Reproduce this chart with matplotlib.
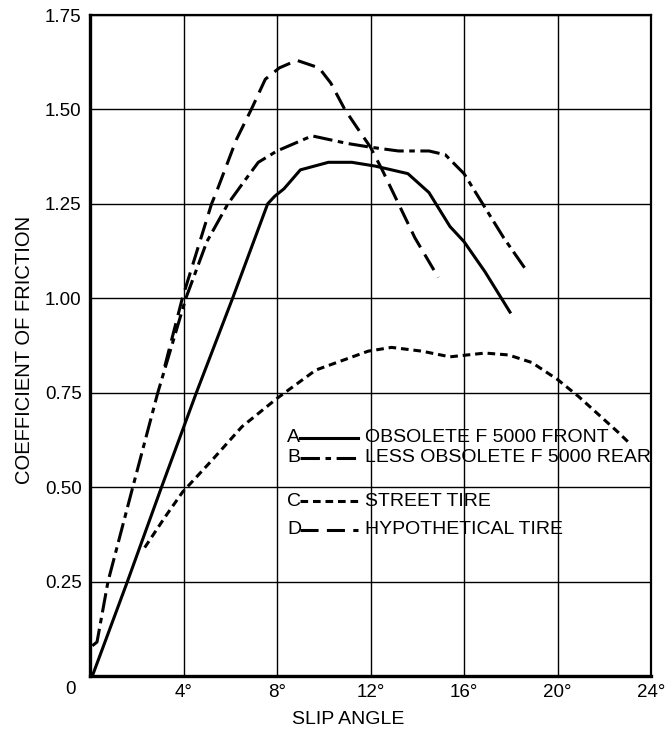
import matplotlib
matplotlib.use("Agg")
import matplotlib.pyplot as plt

plt.rcParams['font.family'] = ['Liberation Sans', 'DejaVu Sans']
plt.rcParams['lines.scale_dashes'] = False

# Data (slip angle in degrees, coefficient of friction)
a_x = [0.1, 1.6, 3.06, 4.55, 6.1, 7.6, 7.9, 8.3, 9.0, 10.2, 11.2, 12.2, 13.6, 14.5, 14.9, 15.4, 16.0, 16.9, 18.0]
a_y = [0.0, 0.25, 0.50, 0.75, 1.00, 1.25, 1.27, 1.29, 1.34, 1.36, 1.36, 1.35, 1.33, 1.28, 1.24, 1.19, 1.15, 1.07, 0.96]

b_x = [0.1, 0.3, 0.77, 1.83, 2.9, 4.1, 5.0, 5.9, 6.6, 7.2, 8.0, 9.5, 11.0, 12.0, 13.2, 14.5, 15.2, 16.0, 16.9, 17.7, 18.6]
b_y = [0.08, 0.09, 0.25, 0.50, 0.75, 1.00, 1.15, 1.25, 1.31, 1.36, 1.39, 1.43, 1.41, 1.40, 1.39, 1.39, 1.38, 1.33, 1.24, 1.16, 1.08]

c_x = [2.34, 3.2, 3.96, 5.2, 6.5, 8.0, 9.66, 11.9, 12.9, 14.2, 15.4, 16.9, 17.9, 18.9, 20.0, 20.9, 22.6, 23.1]
c_y = [0.34, 0.42, 0.487, 0.57, 0.66, 0.735, 0.81, 0.86, 0.87, 0.86, 0.845, 0.855, 0.85, 0.83, 0.785, 0.74, 0.645, 0.615]

d_x = [3.2, 3.95, 4.6, 5.2, 5.4, 6.26, 6.9, 7.5, 8.1, 8.85, 9.8, 10.3, 10.9, 11.5, 12.0, 12.5, 13.2, 13.9, 14.9]
d_y = [0.82, 1.00, 1.13, 1.25, 1.28, 1.42, 1.50, 1.58, 1.61, 1.63, 1.61, 1.57, 1.50, 1.445, 1.40, 1.34, 1.25, 1.16, 1.055]

x_ticks = [4, 8, 12, 16, 20, 24]
x_tick_labels = ['4°', '8°', '12°', '16°', '20°', '24°']
y_ticks = [0.25, 0.50, 0.75, 1.00, 1.25, 1.50, 1.75]
y_tick_labels = ['0.25', '0.50', '0.75', '1.00', '1.25', '1.50', '1.75']

legend_letters = ['A', 'B', 'C', 'D']
legend_labels = ['OBSOLETE F 5000 FRONT', 'LESS OBSOLETE F 5000 REAR', 'STREET TIRE', 'HYPOTHETICAL TIRE']

LW = 2.2
style_a = '-'
style_b = (0, (14, 4, 4, 4))
style_c = (0, (5.5, 3.5))
style_d = (0, (13, 6))

fig = plt.figure(figsize=(6.72, 7.30), dpi=100)
ax = fig.add_axes([90/672, 1 - 676/730, 561/672, 661/730])

ax.set_xlim(0, 24)
ax.set_ylim(0, 1.75)
ax.set_xticks(x_ticks)
ax.set_xticklabels(x_tick_labels)
ax.set_yticks(y_ticks)
ax.set_yticklabels(y_tick_labels)
ax.tick_params(length=0, labelsize=13.5, pad=6)
ax.grid(True, color='black', linewidth=1.0)
ax.set_axisbelow(True)
for side in ['left', 'bottom']:
    ax.spines[side].set_linewidth(2.4)
for side in ['top', 'right']:
    ax.spines[side].set_linewidth(1.6)

ax.plot(a_x, a_y, color='black', lw=LW, linestyle=style_a, solid_capstyle='butt')
ax.plot(b_x, b_y, color='black', lw=LW, linestyle=style_b)
ax.plot(c_x, c_y, color='black', lw=LW, linestyle=style_c)
ax.plot(d_x, d_y, color='black', lw=LW, linestyle=style_d)

def fx(px):
    return (px - 90) / 561
def fy(py):
    return (676 - py) / 661

ax.text(fx(70), fy(690), '0', transform=ax.transAxes, ha='center', va='center', fontsize=13.5)

ax.set_xlabel('SLIP ANGLE', fontsize=14)
ax.xaxis.set_label_coords(fx(348), fy(720))
ax.xaxis.label.set_va('center')
ax.set_ylabel('COEFFICIENT OF FRICTION', fontsize=14.5)
ax.yaxis.set_label_coords(fx(25), fy(350))
ax.yaxis.label.set_va('center')

# manual legend inside the axes
rows_py = [438, 458, 501, 530]
styles = [style_a, style_b, style_c, style_d]
for letter, label, py, st in zip(legend_letters, legend_labels, rows_py, styles):
    ax.text(fx(287), fy(py), letter, transform=ax.transAxes, ha='left', va='center', fontsize=14)
    ax.plot([fx(300), fx(358)], [fy(py), fy(py)], transform=ax.transAxes,
            color='black', lw=LW, linestyle=st)
    ax.text(fx(365), fy(py), label, transform=ax.transAxes, ha='left', va='center', fontsize=14)

fig.savefig('out.png', dpi=100)
